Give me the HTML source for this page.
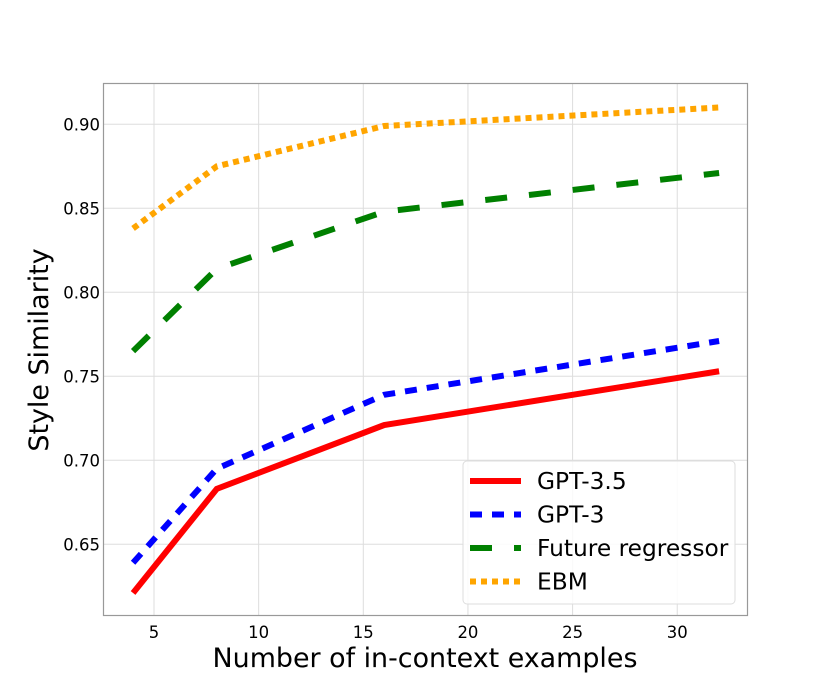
<!DOCTYPE html>
<html><head><meta charset="utf-8"><style>
body{margin:0;background:#fff;}
svg{display:block;font-family:"DejaVu Sans","Liberation Sans",sans-serif;}
</style></head><body>
<svg id="chart" width="830" height="692">
<g id="grid"></g>
<g id="series"></g>
<rect x="103.5" y="83.5" width="644" height="532" fill="none" stroke="#999" stroke-width="1.2"/>
<g id="ticks"></g>
<text x="425" y="667" font-size="26.9" text-anchor="middle">Number of in-context examples</text>
<text transform="translate(48,350) rotate(-90)" font-size="26.9" text-anchor="middle">Style Similarity</text>
<g id="legend">
<rect x="463" y="461" width="272" height="143" rx="4" fill="#fff" fill-opacity="0.85" stroke="#ddd"/>
</g>
</svg>
<script>
const xs=[4,8,16,32];
const seriesNames=["GPT-3.5","GPT-3","Future regressor","EBM"];
const gpt35=[0.621,0.683,0.721,0.753];
const gpt3=[0.639,0.695,0.739,0.771];
const future=[0.765,0.814,0.848,0.871];
const ebm=[0.838,0.875,0.899,0.910];
const xTicks=[5,10,15,20,25,30];
const yTicks=[0.65,0.70,0.75,0.80,0.85,0.90];
const NS="http://www.w3.org/2000/svg";
function X(v){return 154+(v-5)*20.93;}
function Y(v){return 124.3+(0.90-v)*1680;}
function mk(t,a,p){const e=document.createElementNS(NS,t);for(const k in a)e.setAttribute(k,a[k]);p.appendChild(e);return e;}
const grid=document.getElementById('grid'),ticks=document.getElementById('ticks'),ser=document.getElementById('series'),leg=document.getElementById('legend');
xTicks.forEach(t=>{
 const l=mk('line',{x1:X(t),x2:X(t),y1:84,y2:615,stroke:'#ddd','stroke-width':1},grid);
 
 
 const tx=mk('text',{x:X(t),y:638,'font-size':16.5,'text-anchor':'middle'},ticks);
 tx.textContent=t;
 
 
});
yTicks.forEach(t=>{
 const l=mk('line',{x1:104,x2:747,y1:Y(t),y2:Y(t),stroke:'#ddd','stroke-width':1},grid);
 
 
 const tx=mk('text',{x:100,y:Y(t)+6,'font-size':16.5,'text-anchor':'end'},ticks);
 tx.textContent=t.toFixed(2);
 
 
});
const styles=[{c:'#ff0000',d:'none'},{c:'#0000ff',d:'12 10'},{c:'#008000',d:'22 22'},{c:'#ffa500',d:'6 5'}];
const data=[gpt35,gpt3,future,ebm];
const names=['line-gpt-3-5','line-gpt-3','line-future-regressor','line-ebm'];
data.forEach((vals,i)=>{
 const pts=vals.map((v,j)=>X(xs[j])+','+Y(v)).join(' ');
 const p=mk('polyline',{points:pts,fill:'none',stroke:styles[i].c,'stroke-width':6,'stroke-dasharray':styles[i].d},ser);
 
 
 const y=481+i*33.5;
 const ll=mk('line',{x1:470,x2:521,y1:y,y2:y,stroke:styles[i].c,'stroke-width':6,'stroke-dasharray':styles[i].d},leg);
 
 
 const lt=mk('text',{x:537,y:y+8,'font-size':23.3},leg);
 lt.textContent=seriesNames[i];
 
 
});
</script>
</body></html>
